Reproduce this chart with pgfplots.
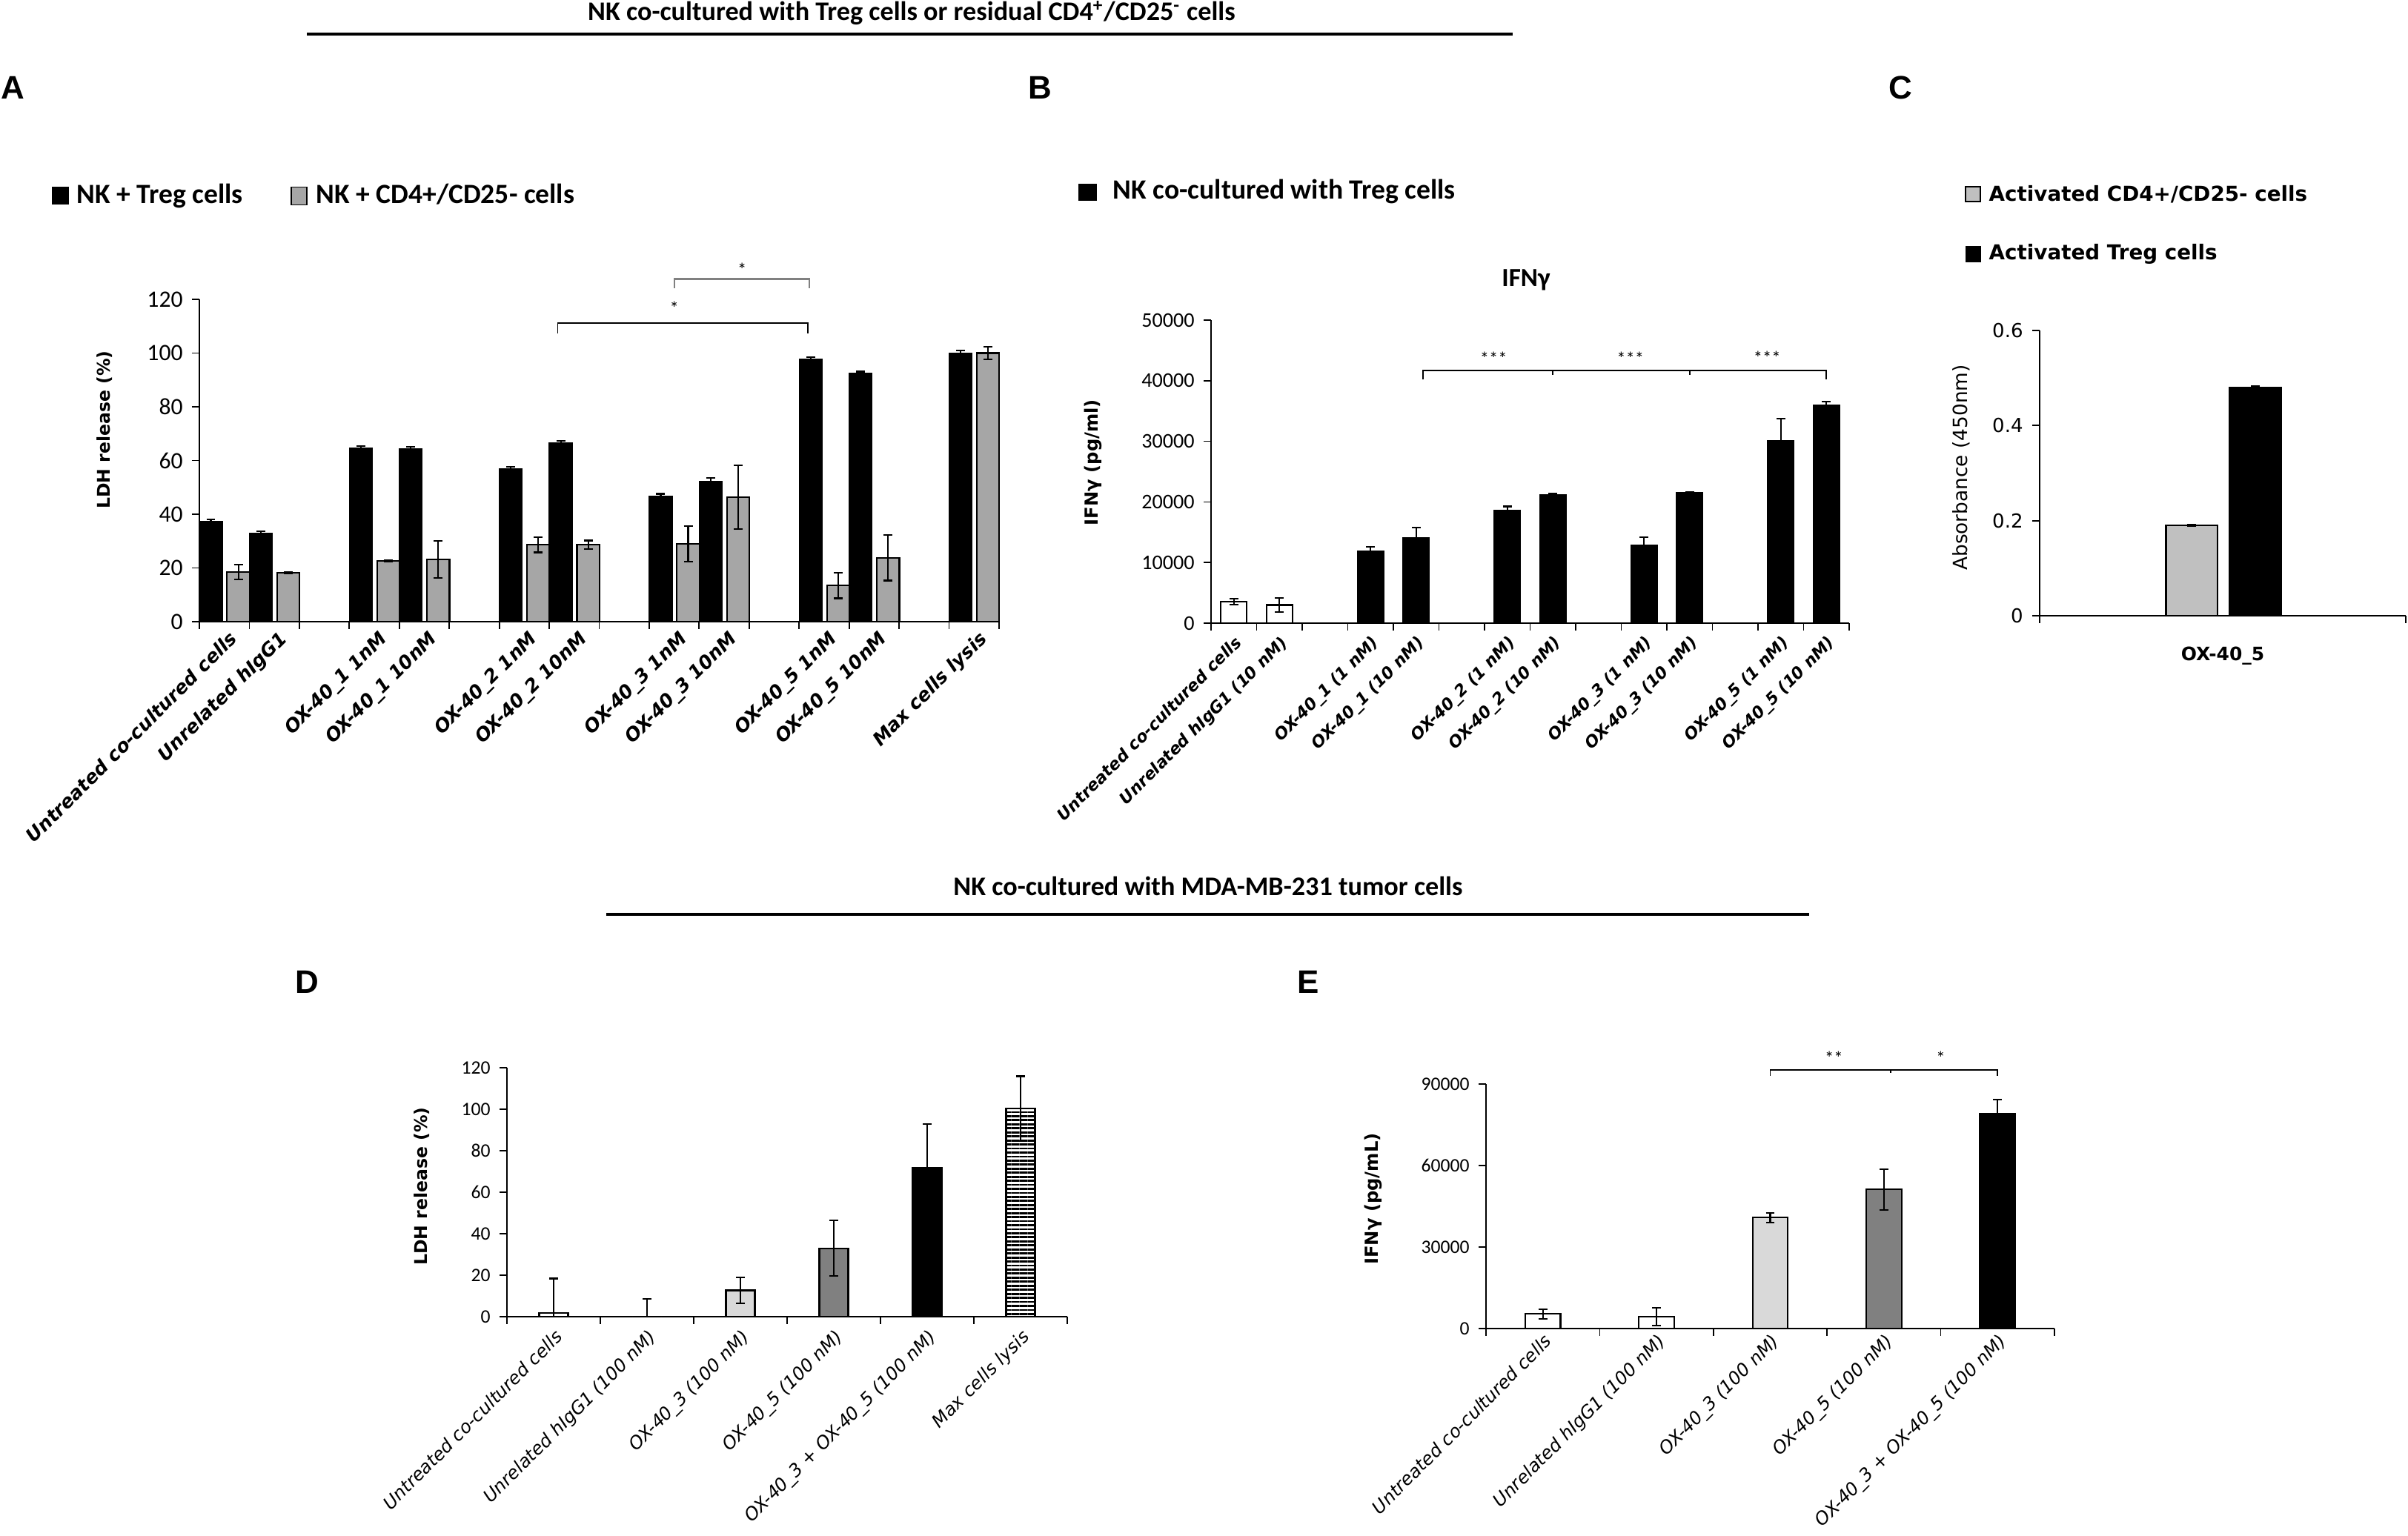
\documentclass[border=0pt]{standalone}
\usepackage{fontspec}
\setmainfont{Carlito}
\newfontfamily\dv{DejaVu Sans}[BoldFont={DejaVu Sans Bold}, ItalicFont={DejaVu Sans Oblique}, BoldItalicFont={DejaVu Sans Bold Oblique}]
\newfontfamily\lib{Liberation Sans}
\usepackage{pgfplots}
\pgfplotsset{compat=1.18}
\usetikzlibrary{patterns.meta}
\newcommand\fs[1]{\fontsize{#1}{#1}\selectfont}
\definecolor{gA}{HTML}{A6A6A6}
\definecolor{gC}{HTML}{C0C0C0}
\definecolor{gL}{HTML}{D9D9D9}
\definecolor{gD}{HTML}{808080}

\pgfplotsset{
  panel/.style={
    scale only axis, axis lines*=left, clip=false,
    axis line style={black, line width=0.6pt},
    tick align=outside, major tick length=0.1cm, minor tick length=0.095cm,
    every tick/.style={black, line width=0.5pt},
    major x tick style={draw=none},
    scaled y ticks=false,
    /pgf/number format/assume math mode=true,
    /pgf/number format/1000 sep={},
    ymin=0,
  },
  rot/.style={xticklabel style={rotate=45, anchor=north east, inner sep=1pt}},
  bars/.style={ybar, bar shift=0pt, bar width=#1, draw=black, line width=0.6pt},
  eb/.style={error bars/.cd, y dir=both, y explicit,
    error bar style={black, line width=0.6pt},
    error mark options={rotate=90, black, line width=0.6pt, mark size=1.7pt}},
}

\begin{document}
\begin{tikzpicture}
\path[use as bounding box] (0,0) rectangle (32.49cm,-20.73cm);

% section headers
\node[anchor=base, font=\bfseries\fs{10.3}, inner sep=0] at (12.30cm,-0.28cm)
  {NK co-cultured with Treg cells or residual CD4\textsuperscript{+}/CD25\textsuperscript{-} cells};
\draw[line width=1.4pt] (4.14cm,-0.46cm) -- (20.41cm,-0.46cm);
\node[anchor=base, font=\bfseries\fs{10.3}, inner sep=0] at (16.30cm,-12.08cm)
  {NK co-cultured with MDA-MB-231 tumor cells};
\draw[line width=1.4pt] (8.18cm,-12.34cm) -- (24.41cm,-12.34cm);

% panel letters
\begin{scope}[every node/.style={font=\lib\bfseries\fs{12.5}, inner sep=0}]
\node[anchor=base west] at (0.01cm,-1.34cm) {A};
\node[anchor=base] at (14.03cm,-1.34cm) {B};
\node[anchor=base] at (25.64cm,-1.34cm) {C};
\node[anchor=base] at (4.14cm,-13.40cm) {D};
\node[anchor=base] at (17.65cm,-13.40cm) {E};
\end{scope}

% legends
\fill (0.70cm,-2.525cm) rectangle (0.93cm,-2.765cm);
\node[anchor=base west, font=\bfseries\fs{10.7}, inner sep=0] at (1.03cm,-2.75cm) {NK + Treg cells};
\filldraw[fill=gA, draw=black, line width=0.5pt] (3.93cm,-2.525cm) rectangle (4.14cm,-2.765cm);
\node[anchor=base west, font=\bfseries\fs{10.7}, inner sep=0] at (4.26cm,-2.75cm) {NK + CD4+/CD25- cells};

\fill (14.55cm,-2.48cm) rectangle (14.80cm,-2.71cm);
\node[anchor=base west, font=\bfseries\fs{10.7}, inner sep=0] at (15.01cm,-2.69cm) {NK co-cultured with Treg cells};
\node[anchor=base, font=\bfseries\fs{10}, inner sep=0] at (20.59cm,-3.87cm) {IFNγ};

\filldraw[fill=gC, draw=black, line width=0.5pt] (26.52cm,-2.52cm) rectangle (26.72cm,-2.72cm);
\node[anchor=base west, font=\dv\bfseries\fs{7.9}, inner sep=0] at (26.83cm,-2.72cm) {Activated CD4+/CD25- cells};
\fill (26.52cm,-3.32cm) rectangle (26.73cm,-3.54cm);
\node[anchor=base west, font=\dv\bfseries\fs{7.9}, inner sep=0] at (26.83cm,-3.51cm) {Activated Treg cells};

% y labels
\node[rotate=90, font=\dv\bfseries\fs{6.7}] at (1.41cm,-5.80cm) {LDH release (\%)};
\node[rotate=90, font=\dv\bfseries\fs{6.9}] at (14.75cm,-6.24cm) {IFNγ (pg/ml)};
\node[rotate=90, font=\dv\fs{7.5}] at (26.46cm,-6.31cm) {Absorbance (450nm)};
\node[rotate=90, font=\dv\bfseries\fs{6.7}] at (5.69cm,-16.01cm) {LDH release (\%)};
\node[rotate=90, font=\dv\bfseries\fs{6.9}] at (18.53cm,-16.18cm) {IFNγ (pg/mL)};

% ---------------- A
\begin{axis}[panel, rot, at={(2.69cm,-8.39cm)}, anchor=south west,
  width=10.79cm, height=4.35cm, xmin=0, xmax=16, ymax=120,
  ytick={0,20,...,120}, yticklabel style={font=\fs{9}},
  xtick={0.5,1.5,3.5,4.5,6.5,7.5,9.5,10.5,12.5,13.5,15.5},
  minor xtick={0,1,...,16},
  xticklabels={Untreated co-cultured cells, Unrelated hIgG1, OX-40\_1 1nM, OX-40\_1 10nM, OX-40\_2 1nM, OX-40\_2 10nM, OX-40\_3 1nM, OX-40\_3 10nM, OX-40\_5 1nM, OX-40\_5 10nM, Max cells lysis},
  xticklabel style={font=\dv\bfseries\itshape\fs{7.2}, xshift=2pt},
]
\addplot[bars=0.45, fill=black, eb] coordinates {
 (0.23,37.3) +- (0,0.8) (1.23,32.7) +- (0,0.9) (3.23,64.6) +- (0,0.9) (4.23,64.2) +- (0,0.9)
 (6.23,56.7) +- (0,0.9) (7.23,66.5) +- (0,0.8) (9.23,46.6) +- (0,1.0) (10.23,52.2) +- (0,1.3)
 (12.23,97.7) +- (0,0.7) (13.23,92.4) +- (0,0.7) (15.23,99.8) +- (0,1.2)};
\addplot[bars=0.45, fill=gA, eb] coordinates {
 (0.78,18.5) +- (0,2.8) (1.78,18.2) +- (0,0.2) (3.78,22.6) +- (0,0.2) (4.78,23.1) +- (0,6.9)
 (6.78,28.6) +- (0,2.8) (7.78,28.6) +- (0,1.6) (9.78,28.9) +- (0,6.6) (10.78,46.3) +- (0,11.9)
 (12.78,13.4) +- (0,4.7) (13.78,23.8) +- (0,8.5) (15.78,100) +- (0,2.3)};
\draw[gD, line width=0.6pt] (axis cs:9.51,124.1) |- (axis cs:12.21,127.6) -- (axis cs:12.21,124.1);
\node[font=\fs{7}] at (axis cs:10.86,131) {*};
\draw[black, line width=0.5pt] (axis cs:7.17,107.3) |- (axis cs:12.17,111.2) -- (axis cs:12.17,107.3);
\node[font=\fs{7}] at (axis cs:9.5,116.7) {*};
\end{axis}

% ---------------- B
\begin{axis}[panel, rot, at={(16.34cm,-8.41cm)}, anchor=south west,
  width=8.61cm, height=4.09cm, xmin=0, xmax=14, ymax=50000,
  ytick={0,10000,...,50000}, yticklabel style={font=\fs{8}},
  xtick={0.5,1.5,3.5,4.5,6.5,7.5,9.5,10.5,12.5,13.5},
  minor xtick={0,1,...,14},
  xticklabels={Untreated co-cultured cells, Unrelated hIgG1 (10 nM), OX-40\_1 (1 nM), OX-40\_1 (10 nM), OX-40\_2 (1 nM), OX-40\_2 (10 nM), OX-40\_3 (1 nM), OX-40\_3 (10 nM), OX-40\_5 (1 nM), OX-40\_5 (10 nM)},
  xticklabel style={font=\dv\bfseries\itshape\fs{6.3}},
]
\addplot[bars=0.57, fill=white, eb] coordinates {
 (0.5,3540) +- (0,500) (1.5,3000) +- (0,1200)};
\addplot[bars=0.57, fill=black, eb] coordinates {
 (3.5,11830) +- (0,800) (4.5,14000) +- (0,1750) (6.5,18600) +- (0,650) (7.5,21100) +- (0,250)
 (9.5,12870) +- (0,1300) (10.5,21480) +- (0,150) (12.5,30040) +- (0,3700) (13.5,35930) +- (0,600)};
\draw[line width=0.5pt] (axis cs:4.65,40220) |- (axis cs:13.5,41700) -- (axis cs:13.5,40220);
\draw[line width=0.5pt] (axis cs:7.5,41700) -- (axis cs:7.5,41000);
\draw[line width=0.5pt] (axis cs:10.5,41700) -- (axis cs:10.5,41000);
\node[font=\fs{7}] at (axis cs:6.2,43640) {***};
\node[font=\fs{7}] at (axis cs:9.2,43640) {***};
\node[font=\fs{7}] at (axis cs:12.2,43800) {***};
\end{axis}

% ---------------- C
\begin{axis}[panel, at={(27.52cm,-8.31cm)}, anchor=south west,
  width=4.94cm, height=3.85cm, xmin=0, xmax=1, ymax=0.6,
  ytick={0,0.2,0.4,0.6}, yticklabels={0,0.2,0.4,0.6}, yticklabel style={font=\dv\fs{7.4}},
  xtick={0.5}, minor xtick={0,1}, xticklabels={OX-40\_5},
  xticklabel style={anchor=north, yshift=-0.2cm, font=\dv\bfseries\fs{7.1}},
]
\addplot[bars=0.14, fill=gC, eb] coordinates {(0.415,0.19) +- (0,0.002)};
\addplot[bars=0.14, fill=black, eb] coordinates {(0.589,0.48) +- (0,0.003)};
\end{axis}

% ---------------- D
\begin{axis}[panel, rot, clip=true, at={(6.84cm,-17.77cm)}, anchor=south west,
  width=7.56cm, height=3.36cm, xmin=0, xmax=6, ymax=120,
  ytick={0,20,...,120}, yticklabel style={font=\fs{7.3}},
  xtick={0.5,1.5,...,5.5}, minor xtick={0,1,...,6},
  xticklabels={Untreated co-cultured cells, Unrelated hIgG1 (100 nM), OX-40\_3 (100 nM), OX-40\_5 (100 nM), OX-40\_3 + OX-40\_5 (100 nM), Max cells lysis},
  xticklabel style={font=\dv\itshape\fs{6.9}},
]
\addplot[bars=0.31, fill=white, eb] coordinates {(0.5,1.9) +- (0,16.5) (1.5,0) +- (0,8.6)};
\addplot[bars=0.31, fill=gL, eb] coordinates {(2.5,12.7) +- (0,6.2)};
\addplot[bars=0.31, fill=gD, eb] coordinates {(3.5,33.0) +- (0,13.5)};
\addplot[bars=0.31, fill=black, eb] coordinates {(4.5,71.7) +- (0,21.2)};
\addplot[bars=0.31, pattern={Lines[angle=0, distance=1.55pt, line width=0.8pt]}, pattern color=black, eb] coordinates {(5.5,100.3) +- (0,15.6)};
\end{axis}

% ---------------- E
\begin{axis}[panel, rot, at={(20.05cm,-17.93cm)}, anchor=south west,
  width=7.67cm, height=3.30cm, xmin=0, xmax=5, ymax=90000,
  ytick={0,30000,60000,90000}, yticklabel style={font=\fs{7.3}},
  xtick={0.5,1.5,...,4.5}, minor xtick={0,1,...,5},
  xticklabels={Untreated co-cultured cells, Unrelated hIgG1 (100 nM), OX-40\_3 (100 nM), OX-40\_5 (100 nM), OX-40\_3 + OX-40\_5 (100 nM)},
  xticklabel style={font=\dv\itshape\fs{6.9}, xshift=2pt, yshift=2pt},
]
\addplot[bars=0.31, fill=white, eb] coordinates {(0.5,5340) +- (0,1800) (1.5,4400) +- (0,3200)};
\addplot[bars=0.31, fill=gL, eb] coordinates {(2.5,40800) +- (0,1800)};
\addplot[bars=0.31, fill=gD, eb] coordinates {(3.5,51200) +- (0,7500)};
\addplot[bars=0.31, fill=black, eb] coordinates {(4.5,79200) +- (0,5000)};
\draw[line width=0.5pt] (axis cs:2.5,93100) |- (axis cs:4.5,95200) -- (axis cs:4.5,93100);
\draw[line width=0.5pt] (axis cs:3.56,95200) -- (axis cs:3.56,94000);
\node[font=\fs{7}] at (axis cs:3.06,99700) {**};
\node[font=\fs{7}] at (axis cs:4.0,99500) {*};
\end{axis}
\end{tikzpicture}
\end{document}
